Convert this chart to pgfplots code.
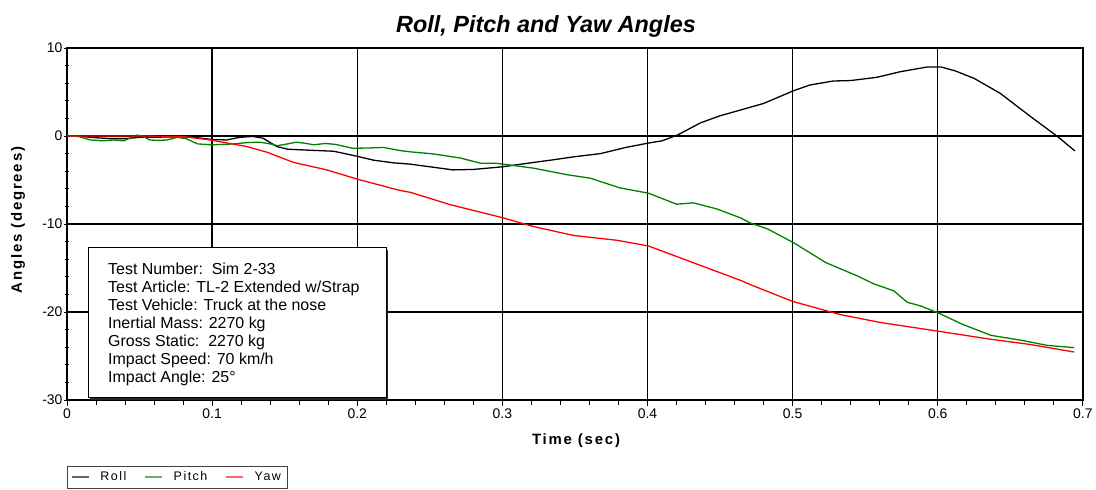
\documentclass[border=0pt]{standalone}
\usepackage{pgfplots}
\pgfplotsset{compat=1.18}
\usepackage{fontspec}
\setmainfont{Liberation Sans}
\newfontfamily\spaced[LetterSpace=12]{Liberation Sans}
\definecolor{pitchgreen}{RGB}{0,128,0}
\definecolor{yawred}{RGB}{255,0,0}
\begin{document}
\begin{tikzpicture}
\useasboundingbox (0,0) rectangle (1096bp,490bp);
\begin{axis}[
  at={(67bp,90bp)}, anchor=south west,
  width=1016bp, height=352bp, scale only axis,
  xmin=0, xmax=0.7, ymin=-30, ymax=10,
  xtick={0,0.1,0.2,0.3,0.4,0.5,0.6,0.7},
  xticklabels={0,0.1,0.2,0.3,0.4,0.5,0.6,0.7},
  ytick={-30,-20,-10,0,10},
  yticklabels={-30,-20,-10,0,10},
  minor x tick num=4, minor y tick num=4,
  xtick pos=bottom, ytick pos=left,
  xtick align=outside, ytick align=center,
  major tick length=6bp, minor tick length=5bp,
  tick style={black, line width=0.9bp},
  grid=major, major grid style={black, line width=1.4bp},
  axis line style={line width=1.7bp},
  tick label style={font=\fontsize{14}{16}\selectfont},
  xticklabel style={yshift=1bp},
  yticklabel style={xshift=2bp},
  legend style={at={(axis description cs:0,-0.1875)}, anchor=north west,
    draw=black!75, fill=white,
    font=\spaced\fontsize{12.5}{14}\selectfont,
    inner xsep=4bp, inner ysep=3.5bp,
    /tikz/every odd column/.append style={column sep=9bp},
    /tikz/every even column/.append style={column sep=16bp}},
  legend columns=3,
  legend image code/.code={\draw[#1] (0bp,0bp) -- (17bp,0bp);},
  legend image post style={opacity=0.6},
]
% Roll
\addplot[black, line width=1.3bp] coordinates {
(0,0) (0.01,-0.05) (0.02,-0.2) (0.03,-0.3) (0.04,-0.3) (0.05,-0.15) (0.06,-0.15)
(0.07,-0.1) (0.08,-0.1) (0.09,-0.2) (0.1,-0.4) (0.11,-0.45) (0.119,-0.15)
(0.128,-0.05) (0.135,-0.25) (0.1446,-1.2) (0.152,-1.5) (0.165,-1.6)
(0.1837,-1.73) (0.1998,-2.3) (0.2113,-2.75) (0.225,-3.05) (0.2366,-3.2)
(0.25,-3.5) (0.266,-3.85) (0.28,-3.8) (0.3,-3.5) (0.315,-3.15) (0.333,-2.75)
(0.35,-2.35) (0.3676,-2.0) (0.385,-1.3) (0.4007,-0.8) (0.41,-0.55) (0.4205,0.1)
(0.4366,1.5) (0.45,2.3) (0.464,2.95) (0.48,3.7) (0.49,4.4) (0.5007,5.15)
(0.512,5.8) (0.528,6.25) (0.54,6.3) (0.558,6.67) (0.574,7.3) (0.593,7.85)
(0.602,7.85) (0.612,7.4) (0.625,6.55) (0.643,4.85) (0.664,2.2) (0.6826,-0.07)
(0.6945,-1.7)
};
\addlegendentry{Roll}
% Pitch
\addplot[pitchgreen, line width=1.3bp] coordinates {
(0,0) (0.008,-0.05) (0.016,-0.45) (0.025,-0.55) (0.032,-0.45) (0.039,-0.55)
(0.044,-0.2) (0.048,0.1) (0.052,0.0) (0.057,-0.45) (0.063,-0.5) (0.069,-0.45)
(0.076,-0.15) (0.082,-0.3) (0.09,-0.9) (0.1,-1.0) (0.108,-0.95) (0.115,-0.9)
(0.124,-0.75) (0.133,-0.7) (0.14,-0.9) (0.145,-1.1) (0.152,-0.9) (0.158,-0.7)
(0.165,-0.85) (0.17,-1.0) (0.178,-0.85) (0.185,-0.95) (0.197,-1.4) (0.21,-1.35)
(0.218,-1.3) (0.2297,-1.66) (0.2366,-1.8) (0.2526,-2.04) (0.271,-2.5)
(0.285,-3.1) (0.296,-3.1) (0.31,-3.4) (0.3216,-3.66) (0.3446,-4.4)
(0.3607,-4.8) (0.381,-5.9) (0.4007,-6.5) (0.41,-7.1) (0.42,-7.75)
(0.4317,-7.6) (0.448,-8.3) (0.464,-9.3) (0.471,-9.9) (0.4826,-10.55)
(0.5009,-12.15) (0.523,-14.4) (0.5446,-15.9) (0.5559,-16.8) (0.5697,-17.6)
(0.579,-18.9) (0.588,-19.3) (0.6009,-20.15) (0.617,-21.4) (0.6366,-22.65)
(0.657,-23.2) (0.6757,-23.8) (0.694,-24.05)
};
\addlegendentry{Pitch}
% Yaw
\addplot[yawred, line width=1.3bp] coordinates {
(0,0) (0.05,0.0) (0.08,-0.05) (0.0986,-0.45) (0.124,-1.2) (0.138,-1.85)
(0.156,-3.0) (0.179,-3.85) (0.2,-4.9) (0.2297,-6.2) (0.2366,-6.4)
(0.264,-7.8) (0.3005,-9.3) (0.3216,-10.3) (0.349,-11.3) (0.379,-11.85)
(0.4007,-12.5) (0.425,-14.0) (0.464,-16.4) (0.471,-16.9) (0.5,-18.8)
(0.533,-20.3) (0.5607,-21.2) (0.601,-22.2) (0.6366,-23.1) (0.664,-23.7)
(0.694,-24.55)
};
\addlegendentry{Yaw}
\end{axis}
% title
\node[anchor=base, font=\fontsize{23.5}{27}\selectfont\bfseries\itshape] at (546bp,457bp) {Roll, Pitch and Yaw Angles};
% axis labels
\node[anchor=base, font=\spaced\fontsize{15}{18}\selectfont\bfseries] at (576bp,45bp) {Time (sec)};
\node[rotate=90, font=\spaced\fontsize{15}{18}\selectfont\bfseries] at (18bp,270bp) {Angles (degrees)};
% info box
\fill[black!85] (90bp,90bp) rectangle (388bp,240bp);
\draw[fill=white, line width=1bp] (88bp,92bp) rectangle (386bp,242bp);
\begin{scope}[every node/.style={anchor=base west, inner sep=0pt, font=\fontsize{16}{18}\selectfont}]
\node at (108bp,215.7bp) {Test Number:\ \ Sim 2-33};
\node at (108bp,197.6bp) {Test Article: TL-2 Extended w/Strap};
\node at (108bp,179.5bp) {Test Vehicle: Truck at the nose};
\node at (108bp,161.4bp) {Inertial Mass: 2270 kg};
\node at (108bp,143.3bp) {Gross Static:\ \ 2270 kg};
\node at (108bp,125.2bp) {Impact Speed: 70 km/h};
\node at (108bp,107.1bp) {Impact Angle: 25°};
\end{scope}
\end{tikzpicture}
\end{document}
